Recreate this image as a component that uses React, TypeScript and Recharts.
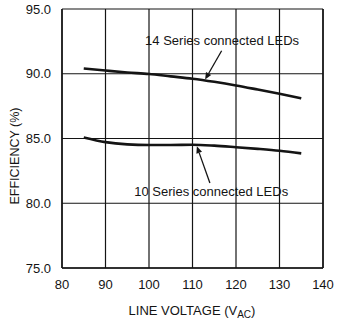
import React from 'react';
import { LineChart, Line, XAxis, YAxis, CartesianGrid, ReferenceLine, ReferenceDot } from 'recharts';

const voltages = [85, 90, 95, 100, 105, 110, 115, 120, 125, 130, 135];
const series14 = [90.41, 90.25, 90.1, 89.98, 89.8, 89.62, 89.38, 89.1, 88.78, 88.45, 88.1];
const series10 = [85.08, 84.72, 84.55, 84.5, 84.5, 84.52, 84.45, 84.33, 84.2, 84.05, 83.85];
const xTicks = [80, 90, 100, 110, 120, 130, 140];
const yTicks = [75, 80, 85, 90, 95];
const label14 = '14 Series connected LEDs';
const label10 = '10 Series connected LEDs';
const label14Pos = { x: 116.8, y: 92.6 };
const label10Pos = { x: 114.3, y: 80.87 };
const arrow14 = [{ x: 116.7, y: 91.78 }, { x: 112.9, y: 89.55 }];
const arrow10 = [{ x: 114.0, y: 81.56 }, { x: 111.0, y: 84.4 }];

const data = voltages.map((v, i) => ({ v, s14: series14[i], s10: series10[i] }));

const INK = '#141414';
const FONT = '"Liberation Sans", Arial, sans-serif';

const ArrowShape = (props: any) => {
  const { x1, y1, x2, y2 } = props;
  if ([x1, y1, x2, y2].some((n) => typeof n !== 'number' || isNaN(n))) return null;
  const dx = x2 - x1;
  const dy = y2 - y1;
  const len = Math.sqrt(dx * dx + dy * dy) || 1;
  const ux = dx / len;
  const uy = dy / len;
  const hl = 7;
  const hw = 3;
  const bx = x2 - ux * hl;
  const by = y2 - uy * hl;
  const p1 = `${bx - uy * hw},${by + ux * hw}`;
  const p2 = `${bx + uy * hw},${by - ux * hw}`;
  return (
    <g>
      <line x1={x1} y1={y1} x2={bx} y2={by} stroke={INK} strokeWidth={1.3} />
      <polygon points={`${x2},${y2} ${p1} ${p2}`} fill={INK} />
    </g>
  );
};

const makeTextShape = (text: string) => (props: any) => {
  const { cx, cy } = props;
  return (
    <text x={cx} y={cy} textAnchor="middle" dominantBaseline="central" fontSize={13} fontFamily={FONT} fill={INK}>
      {text}
    </text>
  );
};

const XLabel = () => (
  <text x={192} y={315} textAnchor="middle" fontSize={13} fontFamily={FONT} fill={INK}>
    <tspan>LINE VOLTAGE (V</tspan>
    <tspan fontSize={10} dy={3}>AC</tspan>
    <tspan dy={-3}>)</tspan>
  </text>
);

const YLabel = () => (
  <text x={15} y={156} transform="rotate(-90 15 156)" textAnchor="middle" dominantBaseline="central" fontSize={12.5} fontFamily={FONT} fill={INK}>
    EFFICIENCY (%)
  </text>
);

export default function App() {
  return (
    <div style={{ position: 'absolute', left: 0, top: 0, width: 339, height: 326, background: '#fff' }}>
      <LineChart width={339} height={326} data={data} margin={{ top: 9, right: 16, bottom: 0, left: 0 }}>
        <CartesianGrid stroke={INK} strokeWidth={1.2} fill="none" />
        <XAxis
          dataKey="v"
          type="number"
          domain={[80, 140]}
          ticks={xTicks}
          height={58}
          tickLine={false}
          axisLine={{ stroke: INK, strokeWidth: 1.5 }}
          tickMargin={6}
          tick={{ fontSize: 13, fontFamily: FONT, fill: INK }}
          label={{ content: XLabel }}
        />
        <YAxis
          type="number"
          domain={[75, 95]}
          ticks={yTicks}
          width={62}
          tickLine={false}
          axisLine={{ stroke: INK, strokeWidth: 1.5 }}
          tickMargin={5}
          tickFormatter={(v: number) => v.toFixed(1)}
          tick={{ fontSize: 13, fontFamily: FONT, fill: INK }}
          label={{ content: YLabel }}
        />
        <ReferenceLine x={140} stroke={INK} strokeWidth={1.5} ifOverflow="visible" />
        <Line type="monotone" dataKey="s14" stroke={INK} strokeWidth={2.6} dot={false} isAnimationActive={false} />
        <Line type="monotone" dataKey="s10" stroke={INK} strokeWidth={2.6} dot={false} isAnimationActive={false} />
        <ReferenceLine segment={arrow14} shape={ArrowShape} />
        <ReferenceLine segment={arrow10} shape={ArrowShape} />
        <ReferenceDot x={label14Pos.x} y={label14Pos.y} r={0} shape={makeTextShape(label14)} />
        <ReferenceDot x={label10Pos.x} y={label10Pos.y} r={0} shape={makeTextShape(label10)} />
      </LineChart>
    </div>
  );
}
